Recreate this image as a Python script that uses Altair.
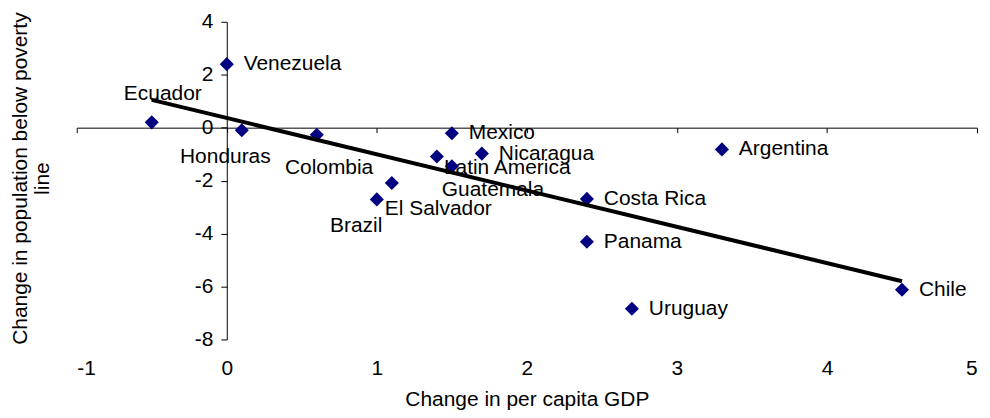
import altair as alt
import pandas as pd

countries = ["Venezuela", "Ecuador", "Honduras", "Colombia", "Mexico", "Guatemala",
             "Latin America", "Nicaragua", "El Salvador", "Brazil", "Costa Rica",
             "Panama", "Uruguay", "Argentina", "Chile"]
gdp_change = [0.0, -0.5, 0.1, 0.6, 1.5, 1.4, 1.5, 1.7, 1.1, 1.0, 2.4, 2.4, 2.7, 3.3, 4.5]
poverty_change = [2.4, 0.2, -0.1, -0.27, -0.21, -1.09, -1.46, -0.98, -2.09, -2.71,
                  -2.69, -4.31, -6.84, -0.82, -6.12]

# label placement (pixel offsets from the point to the label's left/middle)
label_dx = [17, -28, -62, -32, 17, 5, -8, 17, -7, -47, 17, 17, 17, 17, 17]
label_dy = [0, -28, 27, 33, 0, 34, 2, 0, 26, 27, 0, 0, 0, 0, 0]

trend_x = [-0.5, 4.5]
trend_y = [1.05, -5.8]

x_ticks = [-1, 0, 1, 2, 3, 4, 5]
y_ticks = [-8, -6, -4, -2, 0, 2, 4]

W, H = 904, 319
FONT = "Liberation Sans"
FS = 21
HYPHEN = "replace(datum.label, '\u2212', '-')"

df = pd.DataFrame({"country": countries, "gdp": gdp_change, "pov": poverty_change,
                   "dx": label_dx, "dy": label_dy})
trend = pd.DataFrame({"x": trend_x, "y": trend_y})

xs = alt.Scale(domain=[-1, 5], nice=False, zero=False)
ys = alt.Scale(domain=[-8, 4], nice=False, zero=False)

points = alt.Chart(df).mark_point(shape="diamond", filled=True, color="#000080",
                                  size=200, opacity=1).encode(
    x=alt.X("gdp:Q", scale=xs, axis=alt.Axis(
        orient="bottom", offset=-(H * 8 / 12), values=x_ticks, labels=False,
        domain=True, ticks=True, tickSize=5, grid=False, title=None,
        domainColor="black", tickColor="black", domainWidth=1, tickWidth=1)),
    y=alt.Y("pov:Q", scale=ys, axis=alt.Axis(
        orient="left", offset=-W / 6, values=y_ticks, tickSize=6, labelPadding=8,
        labelFontSize=FS, labelFont=FONT, labelColor="black", labelExpr=HYPHEN,
        grid=False, domainColor="black", tickColor="black", domainWidth=1,
        tickWidth=1,
        title=["Change in population below poverty", "line"], titleFontSize=FS,
        titleFont=FONT, titleFontWeight="normal", titleColor="black",
        titleAngle=-90, titleBaseline="alphabetic", titleLineHeight=22,
        titleX=-201, titleY=157)),
)

line = alt.Chart(trend).mark_line(color="black", strokeWidth=4).encode(
    x=alt.X("x:Q", scale=xs, axis=None),
    y=alt.Y("y:Q", scale=ys, axis=None),
)

labels = alt.Chart(df).mark_text(
    align="left", baseline="middle", fontSize=FS, font=FONT, color="black",
    dx=alt.ExprRef(expr="datum.dx"), dy=alt.ExprRef(expr="datum.dy"),
).encode(
    x=alt.X("gdp:Q", scale=xs, axis=alt.Axis(
        orient="bottom", offset=0, values=x_ticks, domain=False, ticks=False,
        tickSize=0, labelPadding=18, labelFontSize=FS, labelFont=FONT,
        labelColor="black", labelExpr=HYPHEN, grid=False,
        title="Change in per capita GDP",
        titleFontSize=FS, titleFont=FONT, titleFontWeight="normal",
        titleColor="black", titlePadding=10)),
    y=alt.Y("pov:Q", scale=ys, axis=None),
    text="country:N",
)

chart = alt.layer(points, line, labels).resolve_axis(
    x="independent", y="independent"
).properties(
    width=W, height=H,
    autosize=alt.AutoSizeParams(type="none"),
    padding={"left": 69, "top": 13, "right": 5, "bottom": 70},
    background="white",
).configure_view(stroke=None)

chart.save("out.html", embed_options={"renderer": "svg", "actions": False})
